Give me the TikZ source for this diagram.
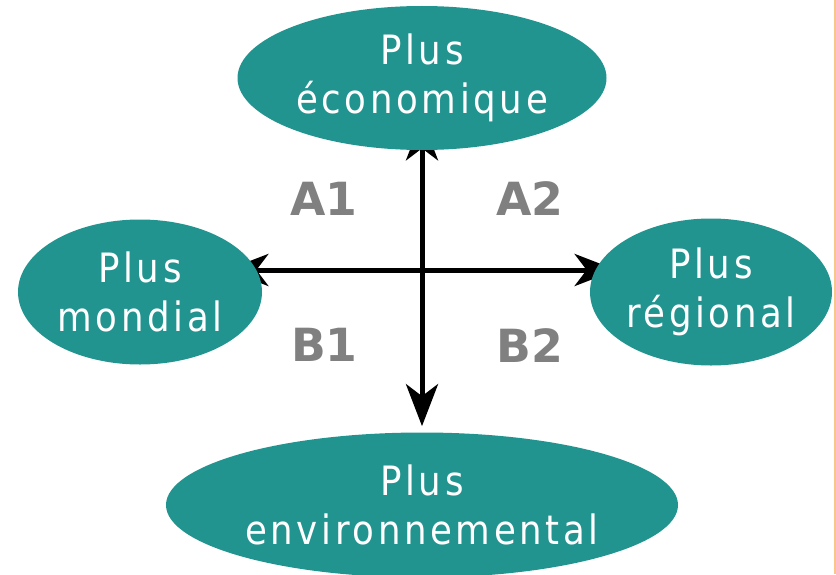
\documentclass[tikz,border=0pt]{standalone}
\usepackage{fontspec}
\setmainfont{DejaVu Sans}
\newfontfamily\scenfont[FakeStretch=0.88, LetterSpace=9]{DejaVu Sans}
\usetikzlibrary{positioning,arrows.meta,backgrounds}
\usepgflibrary{shapes.geometric}
\definecolor{scenteal}{RGB}{34,148,144}
\definecolor{quadgray}{RGB}{128,128,128}
\definecolor{edgeorange}{RGB}{250,196,140}

\begin{document}
\begin{tikzpicture}[scenario/.style={ellipse, fill=scenteal, text=white, inner sep=0pt, align=center,
                                     font=\scenfont\fontsize{23}{27.5}\selectfont},
                      quadrant/.style={text=quadgray, inner sep=0pt, font=\fontsize{26}{30}\selectfont\bfseries},
                      axis/.style={line width=1mm,
                                   {Stealth[length=8.4mm, width=6.4mm, inset=2.4mm]}-{Stealth[length=8.4mm, width=6.4mm, inset=2.4mm]}}]
        \useasboundingbox (0,0) rectangle (16.72,11.48);
        \fill[edgeorange] (16.67,0) rectangle (16.72,11.48);
        \coordinate (O) at (8.44,6.08);
        \node (eco)[scenario, minimum width=7.38cm, minimum height=2.88cm] at (8.44,9.92) {Plus\\économique};
        \node (mond)[scenario, minimum width=4.88cm, minimum height=2.9cm] at (2.8,5.64) {Plus\\mondial};
        \node (reg)[scenario, minimum width=4.84cm, minimum height=2.94cm] at (14.22,5.64) {Plus\\régional};
        \node (env)[scenario, minimum width=10.24cm, minimum height=2.9cm] at (8.44,1.38) {Plus\\environnemental};
        \node (a1)[quadrant, above left=1.08cm and 1.28cm of O] {A1};
        \node (a2)[quadrant, above right=1.08cm and 1.48cm of O] {A2};
        \node (b1)[quadrant, below left=1.16cm and 1.28cm of O] {B1};
        \node (b2)[quadrant, below right=1.16cm and 1.48cm of O] {B2};
        \begin{scope}[on background layer]
          \draw[axis, shorten <=-6.4mm, shorten >=1.2mm] (eco.south) -- (env.north);
          \draw[axis, shorten <=-7.2mm, shorten >=-5.4mm] (mond.east |- O) -- (reg.west |- O);
        \end{scope}
      \end{tikzpicture}
\end{document}
